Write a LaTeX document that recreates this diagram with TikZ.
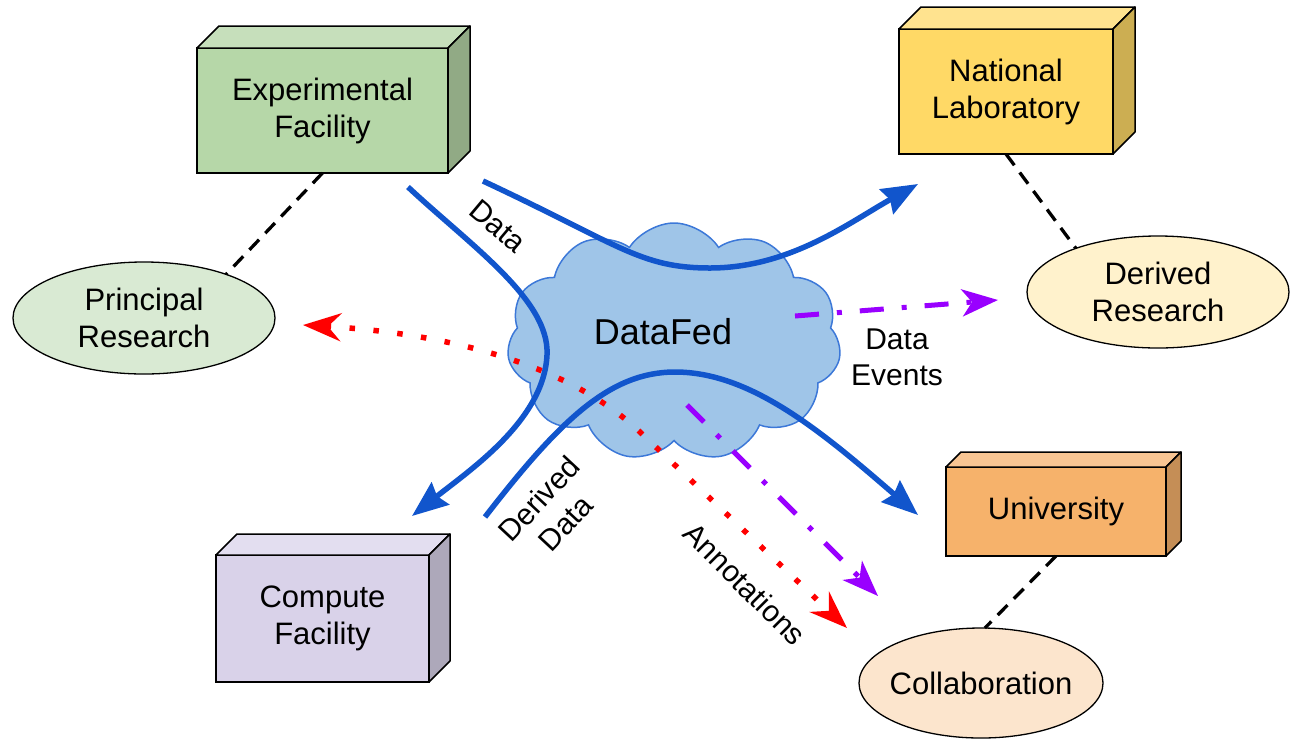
\documentclass[tikz,border=0pt]{standalone}
\usepackage{fontspec}
\setmainfont{Liberation Sans}
\usetikzlibrary{shapes.symbols,shapes.geometric,arrows.meta}
\definecolor{efF}{HTML}{B6D7A8}\definecolor{efT}{HTML}{C6DFBB}\definecolor{efS}{HTML}{91AA85}
\definecolor{nlF}{HTML}{FFD966}\definecolor{nlT}{HTML}{FFE38F}\definecolor{nlS}{HTML}{CCAE52}
\definecolor{cfF}{HTML}{D9D2E9}\definecolor{cfT}{HTML}{E3DEF0}\definecolor{cfS}{HTML}{ADA8BA}
\definecolor{unF}{HTML}{F6B26B}\definecolor{unT}{HTML}{F8C593}\definecolor{unS}{HTML}{C58E56}
\definecolor{prF}{HTML}{D9EAD3}\definecolor{drF}{HTML}{FFF2CC}\definecolor{coF}{HTML}{FCE5CD}
\definecolor{cloudfill}{HTML}{9FC5E8}\definecolor{cloudedge}{HTML}{3C78D8}
\definecolor{flowblue}{HTML}{1155CC}\definecolor{evtpurple}{HTML}{9900FF}\definecolor{annred}{HTML}{FF0000}
\newcommand\mkbox[7]{%
  \node[boxface, fill=#5F, minimum width=#3pt, minimum height=#4pt] (#1) at (#2) {#7};
  \draw[boxedge, fill=#5T] (#1.north west) -- ([xshift=#6pt,yshift=#6pt]#1.north west) -- ([xshift=#6pt,yshift=#6pt]#1.north east) -- (#1.north east) -- cycle;
  \draw[boxedge, fill=#5S] (#1.north east) -- ([xshift=#6pt,yshift=#6pt]#1.north east) -- ([xshift=#6pt,yshift=#6pt]#1.south east) -- (#1.south east) -- cycle;
}
\begin{document}
\begin{tikzpicture}[x=1pt,y=-1pt,
  lbl/.style={font=\fontsize{31}{37}\selectfont, align=center},
  boxface/.style={draw, line width=1.5pt, inner sep=0pt, outer sep=0pt, lbl},
  boxedge/.style={draw, line width=1.5pt, line join=round},
  oval/.style={ellipse, draw, line width=1.3pt, inner sep=0pt, outer sep=0pt, minimum width=262pt, minimum height=112pt, lbl},
  link/.style={draw, line width=3.3pt, dash pattern=on 14pt off 9pt},
  flow/.style={draw=flowblue, line width=5.5pt, -{Stealth[length=36pt,width=28pt,inset=4pt]}},
  evt/.style={draw=evtpurple, line width=5pt, dash pattern=on 24pt off 18pt on 5pt off 18pt, -{Stealth[length=36pt,width=27pt,inset=10pt]}},
  ann/.style={draw=annred, line width=5.5pt, dash pattern=on 5.5pt off 18.5pt, {Stealth[length=38pt,width=28pt,inset=13pt]}-{Stealth[length=38pt,width=28pt,inset=13pt]}},
  flowlbl/.style={font=\fontsize{30}{36}\selectfont, align=center, inner sep=0pt}
]
\useasboundingbox (0,0) rectangle (1292,740);

% boxes
\mkbox{ef}{322.5,110.5}{251}{125}{ef}{22}{Experimental\\Facility}
\mkbox{nl}{1006,91.5}{214}{125}{nl}{22}{National\\Laboratory}
\mkbox{cf}{322.5,618.5}{213}{127}{cf}{21}{Compute\\Facility}
\mkbox{un}{1056,511.5}{220}{89}{un}{15}{University}

% ovals
\node[oval, fill=prF] (pr) at (144,318) {Principal\\Research};
\node[oval, fill=drF] (dr) at (1158,292) {Derived\\Research};
\node[oval, fill=coF, minimum width=244pt, minimum height=110pt, inner xsep=-8pt] (co) at (981,683) {Collaboration};

% dashed links
\draw[link] (ef.south) -- (pr.28);
\draw[link] (nl.south) -- (dr.152);
\draw[link] (un.south) -- (co.86);

% cloud
\node[cloud, cloud puffs=11, cloud puff arc=115, cloud ignores aspect, minimum width=334pt, minimum height=238pt,
      draw=cloudedge, fill=cloudfill, line width=1.5pt, inner sep=0pt] (df) at (674,342) {};
\node[font=\fontsize{36}{40}\selectfont] (dflbl) at (663,332) {DataFed};

% flow endpoints
\coordinate (d1s) at (483,181);
\coordinate (d1e) at (918,184);
\coordinate (d2s) at (408,187);
\coordinate (d2e) at (412,516);
\coordinate (d3s) at (485,517);
\coordinate (d3e) at (918,515);
\coordinate (e1s) at (795,316);
\coordinate (e1e) at (998,300);
\coordinate (e2s) at (687,405);
\coordinate (e2e) at (878,596);
\coordinate (a1) at (303,325);
\coordinate (a2) at (847,628);

% red annotations
\draw[ann] (a1) .. controls (440,333) and (565,361) .. (640,432) -- (a2);

% blue data flows
\draw[flow] (d1s) .. controls (620,245) and (640,268) .. (710,268) .. controls (790,268) and (850,222) .. (d1e);
\draw[flow] (d2s) .. controls (470,245) and (550,300) .. (547,355) .. controls (544,420) and (470,470) .. (d2e);
\draw[flow] (d3s) .. controls (560,420) and (610,372) .. (675,372) .. controls (750,372) and (820,430) .. (d3e);

% purple events
\draw[evt] (e1s) -- (e1e);
\draw[evt] (e2s) -- (e2e);

% labels
\node[flowlbl, rotate=-40] (ldata) at (498,226) {Data};
\node[flowlbl, rotate=47] (lderived) at (552,511) {Derived\\Data};
\node[flowlbl, rotate=-45] (lann) at (745,584) {Annotations};
\node[flowlbl] (levt) at (897,357) {Data\\Events};
\end{tikzpicture}
\end{document}
